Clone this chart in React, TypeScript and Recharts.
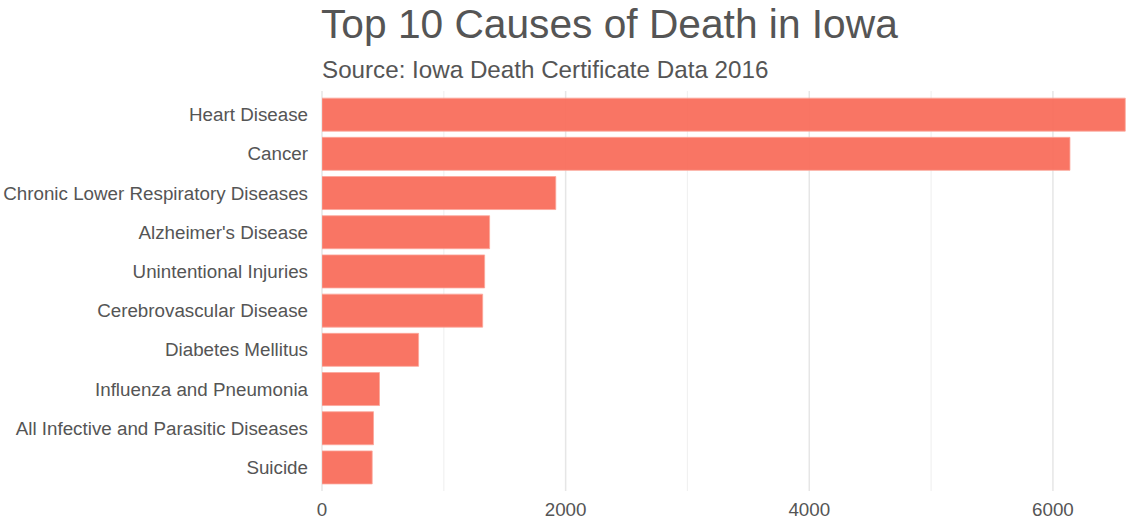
import React from "react";
import { BarChart, Bar, XAxis, YAxis, CartesianGrid } from "recharts";

const causes = [
  "Heart Disease",
  "Cancer",
  "Chronic Lower Respiratory Diseases",
  "Alzheimer's Disease",
  "Unintentional Injuries",
  "Cerebrovascular Disease",
  "Diabetes Mellitus",
  "Influenza and Pneumonia",
  "All Infective and Parasitic Diseases",
  "Suicide",
];
const deaths = [6594, 6140, 1919, 1376, 1335, 1319, 793, 472, 423, 412];
const majorTicks = [0, 2000, 4000, 6000];
const minorTicks = [1000, 3000, 5000];

const data = causes.map((name, i) => ({ name, deaths: deaths[i] }));

const FONT = "'Liberation Sans', Arial, Helvetica, sans-serif";
const TEXT = "#555555";

export default function App() {
  return (
    <div style={{ position: "absolute", left: 0, top: 0, width: 1126, height: 522, background: "#fff", fontFamily: FONT }}>
      <div style={{ position: "absolute", left: 321, top: 4, fontSize: 40.7, lineHeight: "40px", color: TEXT, whiteSpace: "nowrap" }}>
        Top 10 Causes of Death in Iowa
      </div>
      <div style={{ position: "absolute", left: 322, top: 58, fontSize: 24.2, lineHeight: "24px", color: TEXT, whiteSpace: "nowrap" }}>
        Source: Iowa Death Certificate Data 2016
      </div>
      <BarChart
        width={1126}
        height={522}
        data={data}
        layout="vertical"
        margin={{ top: 91, right: 0, bottom: 0, left: 0 }}
        barCategoryGap="8%"
      >
        <CartesianGrid horizontal={false} verticalValues={minorTicks} stroke="#f1f1f1" strokeWidth={1.2} />
        <CartesianGrid horizontal={false} verticalValues={majorTicks} stroke="#e6e6e6" strokeWidth={1.5} />
        <XAxis
          type="number"
          domain={[0, 6600]}
          ticks={majorTicks}
          allowDataOverflow
          axisLine={false}
          tickLine={false}
          tickSize={0}
          tickMargin={12}
          height={31}
          tick={{ fill: TEXT, fontSize: 18.8, fontFamily: FONT }}
        />
        <YAxis
          type="category"
          dataKey="name"
          width={322}
          axisLine={false}
          tickLine={false}
          tickSize={0}
          tickMargin={14}
          interval={0}
          padding={{ top: 4, bottom: 4 }}
          tick={{ fill: TEXT, fontSize: 18.8, fontFamily: FONT }}
        />
        <Bar
          dataKey="deaths"
          fill="#F96A58"
          fillOpacity={0.93}
          stroke="#FBA79B"
          strokeWidth={0.8}
          isAnimationActive={false}
        />
      </BarChart>
    </div>
  );
}
